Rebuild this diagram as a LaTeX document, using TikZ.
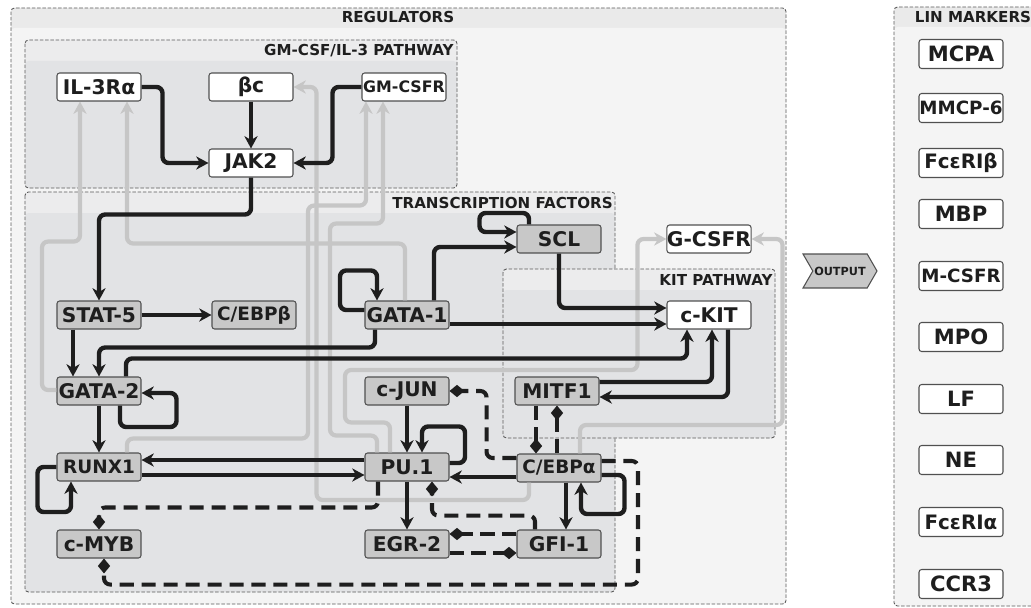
\documentclass[tikz,border=0pt]{standalone}
\usepackage{fontspec}
\setmainfont{DejaVu Sans}
\usepackage{tikz}
\usetikzlibrary{arrows.meta,calc,shapes.symbols}
\definecolor{regpale}{RGB}{244,244,244}
\definecolor{reghead}{RGB}{234,234,234}
\definecolor{grppale}{RGB}{226,227,229}
\definecolor{grphead}{RGB}{236,236,237}
\definecolor{genegray}{RGB}{200,200,200}
\definecolor{feedgray}{RGB}{198,198,198}
\definecolor{inkdark}{RGB}{30,30,30}
\definecolor{boxedge}{RGB}{80,80,80}
\definecolor{framegray}{RGB}{90,90,90}

\begin{document}
\begin{tikzpicture}[x=0.02cm,y=-0.02cm,
  every node/.style={font=\bfseries\fontsize{11.5}{13}\selectfont,align=center,text=inkdark},
  gene/.style={draw=boxedge,line width=0.6pt,rounded corners=1.5pt,fill=genegray,minimum width=1.68cm,minimum height=0.56cm,inner sep=0pt},
  recep/.style={gene,fill=white},
  small/.style={font=\bfseries\fontsize{10.5}{12}\selectfont},
  marker/.style={recep,minimum height=0.58cm,font=\bfseries\fontsize{12}{14}\selectfont},
  widemarker/.style={marker,font=\bfseries\fontsize{10.4}{12}\selectfont},
  fcmarker/.style={marker,font=\bfseries\fontsize{11.3}{13}\selectfont},
  head/.style={font=\bfseries\fontsize{8.6}{10}\selectfont,inner sep=0pt},
  group/.style={draw=framegray,line width=0.5pt,dash pattern=on 2pt off 1pt,rounded corners=2pt},
  act/.style={draw=inkdark,line width=2.5pt,rounded corners=3.5pt,-{Stealth[length=7pt,width=7.5pt,inset=2.2pt]}},
  feed/.style={draw=feedgray,line width=2.4pt,rounded corners=3.5pt,-{Stealth[length=7pt,width=7.5pt,inset=2.2pt]}},
  inh/.style={draw=inkdark,line width=2.3pt,dash pattern=on 8pt off 4.5pt,rounded corners=3.5pt,-{Diamond[length=8.5pt,width=7pt]}}]
  \useasboundingbox (0,0) rectangle (1031,608);

  \fill[reghead,rounded corners=2pt] (11,8) rectangle (786,604);
  \fill[regpale,rounded corners=2pt] (11,28) rectangle (786,604);
  \draw[group] (11,8) rectangle (786,604);
  \node[head] (regtitle) at (398,17) {REGULATORS};

  \fill[grphead,rounded corners=2pt] (25,40) rectangle (457,188);
  \fill[grppale,rounded corners=2pt] (25,61) rectangle (457,188);
  \draw[group] (25,40) rectangle (457,188);
  \node[head,anchor=east] (gmtitle) at (454,51) {GM-CSF/IL-3 PATHWAY};

  \fill[grphead,rounded corners=2pt] (25,192) rectangle (615,592);
  \fill[grppale,rounded corners=2pt] (25,213) rectangle (615,592);
  \draw[group] (25,192) rectangle (615,592);
  \node[head,anchor=east] (tftitle) at (613,203) {TRANSCRIPTION FACTORS};

  \fill[grphead,rounded corners=2pt] (503,269) rectangle (775,438);
  \fill[grppale,rounded corners=2pt] (503,290) rectangle (775,438);
  \draw[group] (503,269) rectangle (775,438);
  \node[head,anchor=east] (kittitle) at (773,280) {KIT PATHWAY};

  \fill[reghead,rounded corners=2pt] (894,7) rectangle (1052,606);
  \fill[regpale,rounded corners=2pt] (894,27) rectangle (1052,606);
  \draw[group] (894,7) rectangle (1052,606);
  \node[head] (lintitle) at (973,17) {LIN MARKERS};

  \node[recep] (il3) at (99,87) {IL-3Rα};
  \node[recep] (bc) at (251,87) {βc};
  \node[recep,font=\bfseries\fontsize{9}{10}\selectfont] (gmr) at (404,87) {GM-CSFR};
  \node[recep] (jak) at (251,163) {JAK2};
  \node[gene] (stat) at (99,315) {STAT-5};
  \node[gene,small] (cebpb) at (254,315) {C/EBPβ};
  \node[gene] (gataone) at (407,315) {GATA-1};
  \node[gene] (scl) at (559,239) {SCL};
  \node[recep] (gcsfr) at (709,239) {G-CSFR};
  \node[recep] (ckit) at (709,315) {c-KIT};
  \node[gene] (gatatwo) at (99,391) {GATA-2};
  \node[gene] (cjun) at (407,391) {c-JUN};
  \node[gene] (mitf) at (557,391) {MITF1};
  \node[gene,small] (runx) at (99,467) {RUNX1};
  \node[gene] (pu) at (407,467) {PU.1};
  \node[gene,small] (cebpa) at (559,468) {C/EBPα};
  \node[gene] (cmyb) at (99,544) {c-MYB};
  \node[gene] (egr) at (407,544) {EGR-2};
  \node[gene] (gfi) at (559,544) {GFI-1};

  \node[signal,signal to=east,signal from=west,signal pointer angle=120,draw=boxedge,line width=0.6pt,fill=genegray,
    minimum width=1.48cm,minimum height=0.68cm,inner sep=0pt,font=\bfseries\fontsize{6.4}{7}\selectfont] (output) at (840,271) {OUTPUT};

  \node[marker] (mcpa) at (961,54) {MCPA};
  \node[widemarker] (mmcp) at (961,108) {MMCP-6};
  \node[fcmarker] (fcrb) at (961,163) {FcεRIβ};
  \node[marker] (mbp) at (961,214) {MBP};
  \node[widemarker] (mcsfr) at (961,276) {M-CSFR};
  \node[marker] (mpo) at (961,337) {MPO};
  \node[marker] (lf) at (961,399) {LF};
  \node[marker] (ne) at (961,460) {NE};
  \node[fcmarker] (fcra) at (961,522) {FcεRIα};
  \node[marker] (ccr) at (961,584) {CCR3};

  \draw[feed] ($(gatatwo.west)+(0,-1)$) -| ($(il3.south)+(-57,140)$) -| ($(il3.south)+(-19,0)$);
  \draw[feed] ($(gataone.north)+(-2,0)$) |- ($(il3.south)+(28,142)$) -- ($(il3.south)+(28,0)$);
  \draw[feed] ($(cebpa.south)+(-30,0)$) |- ($(bc.east)+(23,413)$) |- (bc.east);
  \draw[feed] ($(runx.north)+(28,0)$) |- ($(gmr.south)+(-96,337)$) |- ($(gmr.south)+(-38,104)$) -- ($(gmr.south)+(-38,0)$);
  \draw[feed] ($(pu.north)+(-30,0)$) |- ($(gmr.south)+(-74,334)$) |- ($(gmr.south)+(-21,122)$) -- ($(gmr.south)+(-21,0)$);
  \draw[feed] ($(pu.north)+(-17,0)$) |- ($(pu.north)+(-62,-30)$) |- ($(gcsfr.west)+(-29,131)$) |- (gcsfr.west);
  \draw[feed] ($(cebpa.north)+(21,0)$) |- ($(gcsfr.east)+(31,186)$) |- (gcsfr.east);

  \draw[act] (il3.east) -- ++(21,0) |- (jak.west);
  \draw[act] (bc.south) -- (jak.north);
  \draw[act] (gmr.west) -- ++(-29,0) |- (jak.east);
  \draw[act] (jak.south) -- ++(0,37) -| (stat.north);
  \draw[act] (stat.east) -- (cebpb.west);
  \draw[act] ($(stat.south)+(-26,0)$) -- ($(gatatwo.north)+(-26,0)$);
  \draw[act] ($(gataone.south)+(-32,0)$) -- ++(0,18) -| (gatatwo.north);
  \draw[act] ($(gatatwo.north)+(27,0)$) -- ++(0,-18) -| ($(ckit.south)+(-22,0)$);
  \draw[act] ($(gatatwo.south)+(21,0)$) |- ($(gatatwo.east)+(35,36)$) |- ($(gatatwo.east)+(0,2)$);
  \draw[act] (gatatwo.south) -- (runx.north);
  \draw[act] ($(pu.west)+(0,-7)$) -- ($(runx.east)+(0,-7)$);
  \draw[act] ($(runx.east)+(0,8)$) -- ($(pu.west)+(0,8)$);
  \draw[act] (runx.west) -| ($(runx.west)+(-19,45)$) -| ($(runx.south)+(-28,0)$);
  \draw[act] ($(gataone.west)+(0,-5)$) -| ($(gataone.north)+(-67,-30)$) -| ($(gataone.north)+(-30,0)$);
  \draw[act] ($(gataone.north)+(27,0)$) |- ($(scl.west)+(0,8)$);
  \draw[act] ($(scl.north)+(-30,0)$) |- ($(scl.west)+(-37,-26)$) |- ($(scl.west)+(0,-7)$);
  \draw[act] ($(gataone.east)+(0,9)$) -- ($(ckit.west)+(0,9)$);
  \draw[act] (scl.south) |- ($(ckit.west)+(0,-7)$);
  \draw[act] ($(mitf.east)+(0,-9)$) -| ($(ckit.south)+(3,0)$);
  \draw[act] ($(ckit.south)+(19,0)$) |- ($(mitf.east)+(0,6)$);
  \draw[act] (cjun.south) -- (pu.north);
  \draw[act] ($(pu.east)+(0,-4)$) -| ($(pu.north)+(58,-26)$) -| ($(pu.north)+(15,0)$);
  \draw[act] ($(cebpa.west)+(0,9)$) -- ($(pu.east)+(0,10)$);
  \draw[act] (pu.south) -- (egr.north);
  \draw[act] ($(cebpa.south)+(7,0)$) -- ($(gfi.north)+(7,0)$);
  \draw[act] ($(cebpa.east)+(0,7)$) -| ($(cebpa.east)+(23,46)$) -| ($(cebpa.south)+(22,0)$);

  \draw[inh] ($(pu.south)+(-29,0)$) |- ($(cmyb.north)+(0,-22)$) -- (cmyb.north);
  \draw[inh] ($(cebpa.east)+(0,-7)$) -| ($(cmyb.south)+(539,26)$) -| ($(cmyb.south)+(5,0)$);
  \draw[inh] ($(cebpa.west)+(0,-10)$) -| ($(cjun.east)+(37,0)$) -- (cjun.east);
  \draw[inh] ($(mitf.south)+(-21,0)$) -- ($(cebpa.north)+(-23,0)$);
  \draw[inh] ($(cebpa.north)+(-2,0)$) -- (mitf.south);
  \draw[inh] ($(gfi.north)+(-24,0)$) |- ($(pu.south)+(25,34)$) -- ($(pu.south)+(25,0)$);
  \draw[inh] ($(gfi.west)+(0,-10)$) -- ($(egr.east)+(0,-10)$);
  \draw[inh] ($(egr.east)+(0,9)$) -- ($(gfi.west)+(0,9)$);
\end{tikzpicture}
\end{document}
